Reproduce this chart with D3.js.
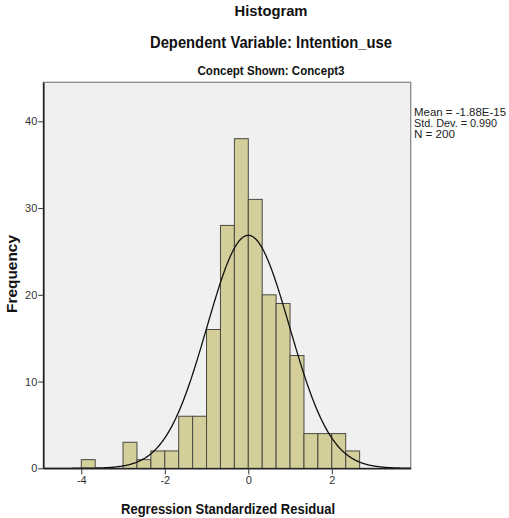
<!DOCTYPE html>
<html>
<head>
<meta charset="utf-8">
<script src="https://cdn.jsdelivr.net/npm/d3@7"></script>
<style>
  html, body { margin: 0; padding: 0; background: #fff; }
  svg { display: block; }
</style>
</head>
<body>
<svg id="chart" width="509" height="518"></svg>
<script>
// ---- data ----
const binStarts = [-4, -3.6667, -3.3333, -3, -2.6667, -2.3333, -2, -1.6667, -1.3333, -1, -0.6667, -0.3333, 0, 0.3333, 0.6667, 1, 1.3333, 1.6667, 2, 2.3333];
const binWidth = 1 / 3;
const counts = [1, 0, 0, 3, 1, 2, 2, 6, 6, 16, 28, 38, 31, 20, 19, 13, 4, 4, 4, 2];
const xTicks = [-4, -2, 0, 2];
const yTicks = [0, 10, 20, 30, 40];
const meanVal = -1.88e-15;
const sdVal = 0.990;
const nVal = 200;
const titles = ["Histogram", "Dependent Variable: Intention_use", "Concept Shown: Concept3"];
const statLines = ["Mean = -1.88E-15", "Std. Dev. = 0.990", "N = 200"];

const svg = d3.select("#chart");
const L = 43.3, R = 410.7, T = 82.3, B = 468.3;
const x = d3.scaleLinear().domain([-4.91, 3.89]).range([L, R]);
const y = d3.scaleLinear().domain([0, 44.5]).range([B, T]);
const font = "'Liberation Sans', Arial, sans-serif";

// background
svg.append("rect").attr("x", L).attr("y", T).attr("width", R - L).attr("height", B - T)
  .attr("fill", "#f0f0f0").attr("stroke", "#8a8a8a").attr("stroke-width", 1.3);

// bars
const bins = binStarts.map((s, i) => ({ x0: s, x1: s + binWidth, c: counts[i] })).filter(d => d.c > 0);
svg.append("g").selectAll("rect").data(bins).join("rect")
  .attr("x", d => x(d.x0)).attr("y", d => y(d.c))
  .attr("width", d => x(d.x1) - x(d.x0)).attr("height", d => y(0) - y(d.c))
  .attr("fill", "#d3ce9a").attr("stroke", "#4a4a40").attr("stroke-width", 1);

// normal curve (density from the shown mean / std. dev., scaled by N * bin width)
const scale = nVal * binWidth;
const pts = d3.range(-4.91, 3.89 + 1e-9, 0.02).map(v => [v, scale / (sdVal * Math.sqrt(2 * Math.PI)) * Math.exp(-0.5 * ((v - meanVal) / sdVal) ** 2)]);
svg.append("path").datum(pts)
  .attr("d", d3.line().x(d => x(d[0])).y(d => y(d[1])))
  .attr("fill", "none").attr("stroke", "#111").attr("stroke-width", 1.3);

// axes
const yAxis = d3.axisLeft(y).tickValues(yTicks).tickSize(5).tickSizeOuter(0);
const gy = svg.append("g").attr("transform", `translate(${L},0)`).call(yAxis);
const xAxis = d3.axisBottom(x).tickValues(xTicks).tickSize(6).tickSizeOuter(0).tickFormat(d => d < 0 ? "-" + Math.abs(d) : d);
const gx = svg.append("g").attr("transform", `translate(0,${B})`).call(xAxis);
[gx, gy].forEach(g => {
  g.select(".domain").attr("stroke", "#222").attr("stroke-width", 1.6);
  g.selectAll(".tick line").attr("stroke", "#333");
  g.selectAll(".tick text").attr("fill", "#333").attr("font-size", 11).attr("font-family", font);
});
gy.selectAll(".tick text").attr("x", -6);
gx.selectAll(".tick text").attr("y", 8);

function fitText(sel, len) {
  return sel.attr("textLength", len).attr("lengthAdjust", "spacingAndGlyphs");
}

// titles
const tx = 271;
fitText(svg.append("text").attr("x", tx).attr("y", 16).attr("text-anchor", "middle")
  .attr("font-family", font).attr("font-weight", "bold").attr("font-size", 15.5).attr("fill", "#111").text(titles[0]), 73);
fitText(svg.append("text").attr("x", tx).attr("y", 48).attr("text-anchor", "middle")
  .attr("font-family", font).attr("font-weight", "bold").attr("font-size", 16).attr("fill", "#111").text(titles[1]), 242);
fitText(svg.append("text").attr("x", tx).attr("y", 74.5).attr("text-anchor", "middle")
  .attr("font-family", font).attr("font-weight", "bold").attr("font-size", 12.5).attr("fill", "#111").text(titles[2]), 147);

// axis titles
fitText(svg.append("text").attr("transform", `translate(17,274) rotate(-90)`).attr("text-anchor", "middle")
  .attr("font-family", font).attr("font-weight", "bold").attr("font-size", 14.5).attr("fill", "#111").text("Frequency"), 78);
fitText(svg.append("text").attr("x", 228).attr("y", 513.5).attr("text-anchor", "middle")
  .attr("font-family", font).attr("font-weight", "bold").attr("font-size", 14.5).attr("fill", "#111").text("Regression Standardized Residual"), 214);

// stats
const statW = [92, 83, 41];
svg.append("g").selectAll("text").data(statLines).join("text")
  .attr("x", 414).attr("y", (d, i) => 115.5 + i * 11.2)
  .attr("font-family", font).attr("font-size", 10).attr("fill", "#222")
  .attr("textLength", (d, i) => statW[i]).attr("lengthAdjust", "spacingAndGlyphs")
  .text(d => d);
</script>
</body>
</html>
